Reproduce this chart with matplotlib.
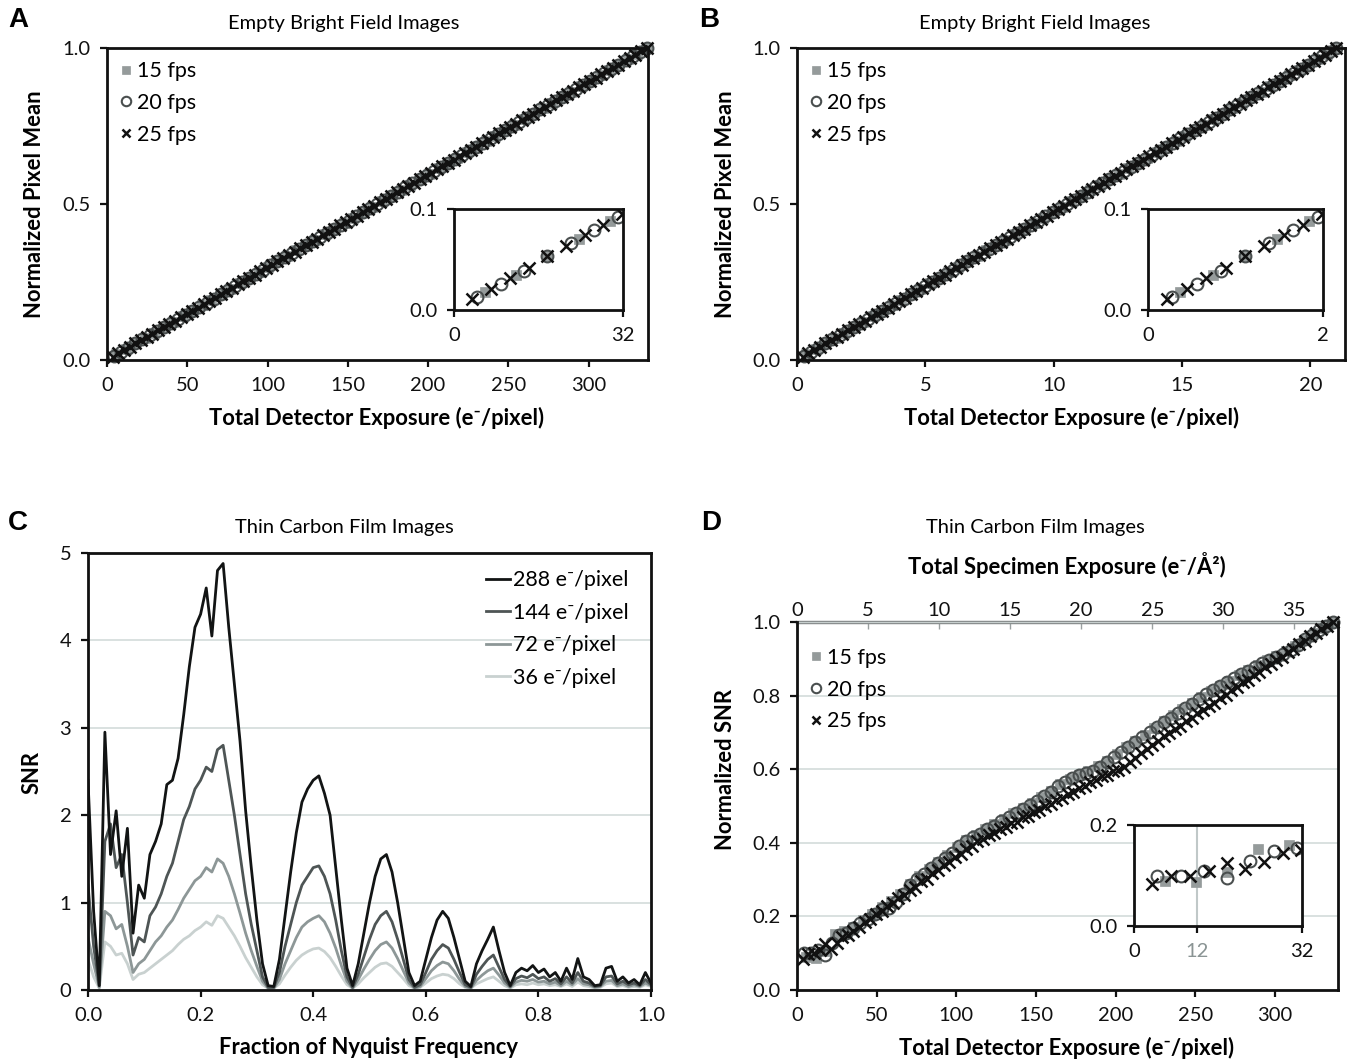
import matplotlib
matplotlib.use("Agg")
import matplotlib.pyplot as plt
import numpy as np

plt.rcParams['font.family'] = ['Lato', 'DejaVu Sans']
plt.rcParams['axes.linewidth'] = 2.0

# ---------------- data ----------------
# Total detector exposure (e-/pixel) of each recorded point, per frame rate
exposure_15fps = [5.9, 11.8, 17.7, 23.6, 29.5, 35.4, 41.3, 47.2, 53.1, 59.0, 64.9, 70.8, 76.7, 82.6, 88.5,
                  94.4, 100.3, 106.2, 112.1, 118.0, 123.9, 129.8, 135.7, 141.6, 147.5, 153.4, 159.3, 165.2,
                  171.1, 177.0, 182.9, 188.8, 194.7, 200.6, 206.5, 212.4, 218.3, 224.2, 230.1, 236.0, 241.9,
                  247.8, 253.7, 259.6, 265.5, 271.4, 277.3, 283.2, 289.1, 295.0, 300.9, 306.8, 312.7, 318.6,
                  324.5, 330.4, 336.3]
exposure_20fps = [4.4, 8.9, 13.3, 17.7, 22.1, 26.6, 31.0, 35.4, 39.8, 44.3, 48.7, 53.1, 57.5, 62.0, 66.4,
                  70.8, 75.2, 79.7, 84.1, 88.5, 92.9, 97.4, 101.8, 106.2, 110.6, 115.1, 119.5, 123.9, 128.3,
                  132.8, 137.2, 141.6, 146.0, 150.5, 154.9, 159.3, 163.7, 168.2, 172.6, 177.0, 181.4, 185.9,
                  190.3, 194.7, 199.1, 203.6, 208.0, 212.4, 216.8, 221.3, 225.7, 230.1, 234.5, 239.0, 243.4,
                  247.8, 252.2, 256.7, 261.1, 265.5, 269.9, 274.4, 278.8, 283.2, 287.6, 292.1, 296.5, 300.9,
                  305.3, 309.8, 314.2, 318.6, 323.0, 327.5, 331.9, 336.3]
exposure_25fps = [3.5, 7.1, 10.6, 14.2, 17.7, 21.2, 24.8, 28.3, 31.9, 35.4, 38.9, 42.5, 46.0, 49.6, 53.1,
                  56.6, 60.2, 63.7, 67.3, 70.8, 74.3, 77.9, 81.4, 85.0, 88.5, 92.0, 95.6, 99.1, 102.7, 106.2,
                  109.7, 113.3, 116.8, 120.4, 123.9, 127.4, 131.0, 134.5, 138.1, 141.6, 145.1, 148.7, 152.2,
                  155.8, 159.3, 162.8, 166.4, 169.9, 173.5, 177.0, 180.5, 184.1, 187.6, 191.2, 194.7, 198.2,
                  201.8, 205.3, 208.9, 212.4, 215.9, 219.5, 223.0, 226.6, 230.1, 233.6, 237.2, 240.7, 244.3,
                  247.8, 251.3, 254.9, 258.4, 262.0, 265.5, 269.0, 272.6, 276.1, 279.7, 283.2, 286.7, 290.3,
                  293.8, 297.4, 300.9, 304.4, 308.0, 311.5, 315.1, 318.6, 322.1, 325.7, 329.2, 332.8, 336.3]

# Empty bright field: normalized pixel mean
mean_15fps = [0.018, 0.035, 0.053, 0.070, 0.088, 0.105, 0.123, 0.140, 0.158, 0.175, 0.193, 0.211, 0.228,
              0.246, 0.263, 0.281, 0.298, 0.316, 0.333, 0.351, 0.368, 0.386, 0.404, 0.421, 0.439, 0.456,
              0.474, 0.491, 0.509, 0.526, 0.544, 0.561, 0.579, 0.596, 0.614, 0.632, 0.649, 0.667, 0.684,
              0.702, 0.719, 0.737, 0.754, 0.772, 0.789, 0.807, 0.825, 0.842, 0.860, 0.877, 0.895, 0.912,
              0.930, 0.947, 0.965, 0.982, 1.000]
mean_20fps = [0.013, 0.026, 0.039, 0.053, 0.066, 0.079, 0.092, 0.105, 0.118, 0.132, 0.145, 0.158, 0.171,
              0.184, 0.197, 0.211, 0.224, 0.237, 0.250, 0.263, 0.276, 0.289, 0.303, 0.316, 0.329, 0.342,
              0.355, 0.368, 0.382, 0.395, 0.408, 0.421, 0.434, 0.447, 0.461, 0.474, 0.487, 0.500, 0.513,
              0.526, 0.539, 0.553, 0.566, 0.579, 0.592, 0.605, 0.618, 0.632, 0.645, 0.658, 0.671, 0.684,
              0.697, 0.711, 0.724, 0.737, 0.750, 0.763, 0.776, 0.789, 0.803, 0.816, 0.829, 0.842, 0.855,
              0.868, 0.882, 0.895, 0.908, 0.921, 0.934, 0.947, 0.961, 0.974, 0.987, 1.000]
mean_25fps = [0.011, 0.021, 0.032, 0.042, 0.053, 0.063, 0.074, 0.084, 0.095, 0.105, 0.116, 0.126, 0.137,
              0.147, 0.158, 0.168, 0.179, 0.189, 0.200, 0.211, 0.221, 0.232, 0.242, 0.253, 0.263, 0.274,
              0.284, 0.295, 0.305, 0.316, 0.326, 0.337, 0.347, 0.358, 0.368, 0.379, 0.389, 0.400, 0.411,
              0.421, 0.432, 0.442, 0.453, 0.463, 0.474, 0.484, 0.495, 0.505, 0.516, 0.526, 0.537, 0.547,
              0.558, 0.568, 0.579, 0.589, 0.600, 0.611, 0.621, 0.632, 0.642, 0.653, 0.663, 0.674, 0.684,
              0.695, 0.705, 0.716, 0.726, 0.737, 0.747, 0.758, 0.768, 0.779, 0.789, 0.800, 0.811, 0.821,
              0.832, 0.842, 0.853, 0.863, 0.874, 0.884, 0.895, 0.905, 0.916, 0.926, 0.937, 0.947, 0.958,
              0.968, 0.979, 0.989, 1.000]

# Thin carbon film: normalized SNR
snr_15fps = [0.089, 0.087, 0.107, 0.152, 0.160, 0.170, 0.189, 0.207, 0.226, 0.241, 0.262, 0.287, 0.309,
             0.328, 0.348, 0.368, 0.388, 0.407, 0.421, 0.437, 0.450, 0.465, 0.480, 0.494, 0.509, 0.524,
             0.541, 0.561, 0.574, 0.585, 0.594, 0.608, 0.623, 0.641, 0.660, 0.676, 0.693, 0.712, 0.730,
             0.747, 0.764, 0.781, 0.797, 0.812, 0.826, 0.841, 0.855, 0.869, 0.884, 0.896, 0.907, 0.920,
             0.936, 0.952, 0.970, 0.985, 1.000]
snr_20fps = [0.100, 0.100, 0.109, 0.096, 0.129, 0.149, 0.155, 0.168, 0.182, 0.193, 0.207, 0.219, 0.222,
             0.238, 0.262, 0.285, 0.301, 0.316, 0.331, 0.345, 0.360, 0.373, 0.391, 0.404, 0.415, 0.424,
             0.438, 0.446, 0.459, 0.469, 0.482, 0.491, 0.504, 0.513, 0.527, 0.539, 0.553, 0.566, 0.575,
             0.583, 0.589, 0.596, 0.607, 0.620, 0.634, 0.648, 0.660, 0.674, 0.687, 0.700, 0.714, 0.727,
             0.740, 0.753, 0.766, 0.778, 0.791, 0.804, 0.815, 0.825, 0.836, 0.847, 0.858, 0.868, 0.879,
             0.888, 0.897, 0.905, 0.914, 0.925, 0.938, 0.953, 0.965, 0.978, 0.989, 1.000]
snr_25fps = [0.083, 0.099, 0.100, 0.109, 0.124, 0.112, 0.127, 0.144, 0.150, 0.160, 0.171, 0.185, 0.192,
             0.206, 0.214, 0.229, 0.236, 0.251, 0.259, 0.273, 0.280, 0.295, 0.302, 0.318, 0.325, 0.339,
             0.348, 0.362, 0.369, 0.384, 0.391, 0.404, 0.410, 0.421, 0.426, 0.437, 0.442, 0.453, 0.457,
             0.469, 0.474, 0.485, 0.489, 0.501, 0.506, 0.517, 0.521, 0.533, 0.538, 0.548, 0.553, 0.565,
             0.570, 0.582, 0.584, 0.594, 0.598, 0.606, 0.619, 0.630, 0.643, 0.655, 0.667, 0.677, 0.689,
             0.698, 0.710, 0.718, 0.731, 0.739, 0.752, 0.760, 0.773, 0.781, 0.794, 0.802, 0.815, 0.823,
             0.836, 0.843, 0.856, 0.864, 0.877, 0.885, 0.898, 0.906, 0.919, 0.927, 0.940, 0.948, 0.961,
             0.969, 0.982, 0.990, 1.000]

# SNR spectra vs fraction of Nyquist
nyquist_fraction = [0.00, 0.01, 0.02, 0.03, 0.04, 0.05, 0.06, 0.07, 0.08, 0.09, 0.10, 0.11, 0.12, 0.13,
                    0.14, 0.15, 0.16, 0.17, 0.18, 0.19, 0.20, 0.21, 0.22, 0.23, 0.24, 0.25, 0.26, 0.27,
                    0.28, 0.29, 0.30, 0.31, 0.32, 0.33, 0.34, 0.35, 0.36, 0.37, 0.38, 0.39, 0.40, 0.41,
                    0.42, 0.43, 0.44, 0.45, 0.46, 0.47, 0.48, 0.49, 0.50, 0.51, 0.52, 0.53, 0.54, 0.55,
                    0.56, 0.57, 0.58, 0.59, 0.60, 0.61, 0.62, 0.63, 0.64, 0.65, 0.66, 0.67, 0.68, 0.69,
                    0.70, 0.71, 0.72, 0.73, 0.74, 0.75, 0.76, 0.77, 0.78, 0.79, 0.80, 0.81, 0.82, 0.83,
                    0.84, 0.85, 0.86, 0.87, 0.88, 0.89, 0.90, 0.91, 0.92, 0.93, 0.94, 0.95, 0.96, 0.97,
                    0.98, 0.99, 1.00]
snr_288 = [2.40, 0.90, 0.05, 2.95, 1.55, 2.05, 1.30, 1.85, 0.65, 1.20, 1.05, 1.55, 1.70, 1.90, 2.35, 2.40,
           2.65, 3.15, 3.70, 4.15, 4.30, 4.60, 4.05, 4.80, 4.88, 4.15, 3.50, 2.85, 2.05, 1.40, 0.80, 0.30,
           0.05, 0.04, 0.35, 0.85, 1.35, 1.80, 2.15, 2.30, 2.40, 2.45, 2.25, 2.00, 1.40, 0.80, 0.25, 0.05,
           0.30, 0.65, 1.00, 1.30, 1.50, 1.55, 1.35, 1.00, 0.60, 0.20, 0.05, 0.10, 0.35, 0.60, 0.80, 0.90,
           0.82, 0.60, 0.35, 0.10, 0.04, 0.30, 0.45, 0.58, 0.72, 0.45, 0.20, 0.05, 0.20, 0.25, 0.22, 0.28,
           0.20, 0.24, 0.15, 0.20, 0.10, 0.25, 0.12, 0.36, 0.15, 0.12, 0.05, 0.06, 0.25, 0.27, 0.10, 0.15,
           0.08, 0.12, 0.06, 0.20, 0.08]
snr_144 = [1.20, 0.50, 0.05, 1.70, 1.90, 1.40, 1.55, 1.00, 0.40, 0.60, 0.55, 0.85, 0.95, 1.10, 1.30, 1.45,
           1.70, 1.95, 2.10, 2.30, 2.40, 2.55, 2.50, 2.75, 2.80, 2.40, 2.00, 1.55, 1.10, 0.75, 0.45, 0.15,
           0.03, 0.03, 0.20, 0.50, 0.75, 1.00, 1.20, 1.30, 1.40, 1.42, 1.30, 1.10, 0.80, 0.45, 0.15, 0.03,
           0.18, 0.38, 0.58, 0.75, 0.85, 0.90, 0.78, 0.58, 0.35, 0.12, 0.03, 0.06, 0.20, 0.35, 0.45, 0.52,
           0.48, 0.35, 0.20, 0.06, 0.03, 0.18, 0.27, 0.35, 0.40, 0.26, 0.12, 0.04, 0.13, 0.16, 0.14, 0.18,
           0.13, 0.15, 0.10, 0.13, 0.07, 0.15, 0.08, 0.20, 0.10, 0.08, 0.04, 0.05, 0.15, 0.16, 0.07, 0.10,
           0.06, 0.08, 0.05, 0.12, 0.06]
snr_72 = [0.60, 0.30, 0.03, 0.90, 0.85, 0.70, 0.75, 0.50, 0.20, 0.30, 0.35, 0.45, 0.55, 0.62, 0.72, 0.80,
          0.92, 1.05, 1.15, 1.25, 1.30, 1.40, 1.35, 1.50, 1.45, 1.30, 1.10, 0.88, 0.65, 0.45, 0.27, 0.10,
          0.02, 0.02, 0.12, 0.30, 0.45, 0.60, 0.72, 0.78, 0.82, 0.85, 0.78, 0.65, 0.48, 0.28, 0.10, 0.02,
          0.12, 0.24, 0.35, 0.45, 0.52, 0.55, 0.48, 0.36, 0.22, 0.08, 0.02, 0.04, 0.13, 0.22, 0.28, 0.32,
          0.30, 0.22, 0.12, 0.04, 0.02, 0.11, 0.17, 0.22, 0.25, 0.17, 0.08, 0.03, 0.09, 0.11, 0.10, 0.12,
          0.09, 0.10, 0.07, 0.09, 0.05, 0.10, 0.06, 0.13, 0.07, 0.06, 0.03, 0.04, 0.10, 0.11, 0.05, 0.07,
          0.04, 0.06, 0.04, 0.08, 0.05]
snr_36 = [0.35, 0.15, 0.02, 0.55, 0.50, 0.40, 0.42, 0.30, 0.12, 0.18, 0.20, 0.25, 0.30, 0.35, 0.40, 0.45,
          0.52, 0.58, 0.62, 0.68, 0.72, 0.78, 0.74, 0.85, 0.82, 0.72, 0.62, 0.50, 0.37, 0.26, 0.15, 0.06,
          0.02, 0.02, 0.07, 0.17, 0.26, 0.34, 0.40, 0.44, 0.47, 0.48, 0.44, 0.37, 0.27, 0.16, 0.06, 0.02,
          0.07, 0.14, 0.20, 0.26, 0.30, 0.31, 0.27, 0.20, 0.13, 0.05, 0.02, 0.03, 0.08, 0.13, 0.16, 0.18,
          0.17, 0.13, 0.07, 0.03, 0.02, 0.07, 0.10, 0.13, 0.15, 0.10, 0.05, 0.02, 0.06, 0.07, 0.06, 0.08,
          0.06, 0.07, 0.05, 0.06, 0.04, 0.07, 0.04, 0.09, 0.05, 0.04, 0.02, 0.03, 0.07, 0.08, 0.04, 0.05,
          0.03, 0.04, 0.03, 0.06, 0.04]

fps_labels = ['15 fps', '20 fps', '25 fps']
dose_labels = ['288 e\u207b/pixel', '144 e\u207b/pixel', '72 e\u207b/pixel', '36 e\u207b/pixel']
superres_factor = 16          # panel B pixel units relative to panel A
detector_per_specimen = 8.92  # e-/pixel per e-/A^2 (panel D top axis)
inset_d_marker = 12

# ---------------- styling ----------------
W, H = 1358, 1063
fig = plt.figure(figsize=(W / 100, H / 100), dpi=100)

def box(l, t, r, b):
    return [l / W, 1 - b / H, (r - l) / W, (b - t) / H]

def ftext(x, y, s, **kw):
    fig.text(x / W, 1 - y / H, s, ha='center', va='center', **kw)

TICK_FS = 14.5
LAB_FS = 15.8
LEG_FS = 15.5
TITLE_FS = 14.5
GRID = '#d3dbda'
C_SQ = '#959b9b'
C_CI = '#4a4f4f'
C_X = '#111111'

def style_axes(ax, fs=TICK_FS):
    for s in ax.spines.values():
        s.set_linewidth(2.0)
        s.set_color('#111111')
    ax.tick_params(direction='out', length=5, width=1.6, labelsize=fs, pad=7, colors='#111111')

series_style = [
    dict(marker='s', ms=7.5, mfc=C_SQ, mec=C_SQ, mew=0.5),
    dict(marker='o', ms=8.5, mfc='none', mec=C_CI, mew=1.5),
    dict(marker='x', ms=8.0, mfc='none', mec=C_X, mew=1.8),
]

def draw_series(ax, xs, ys, clip=True, labels=None):
    hs = []
    for i, (x, y) in enumerate(zip(xs, ys)):
        h, = ax.plot(x, y, linestyle='none', clip_on=clip,
                     label=None if labels is None else labels[i], **series_style[i])
        hs.append(h)
    return hs

def fps_legend(ax, anchor):
    ax.legend(loc='upper left', bbox_to_anchor=anchor, frameon=False, fontsize=LEG_FS,
              handlelength=0.5, handletextpad=0.25, labelspacing=0.55, borderpad=0,
              borderaxespad=0, markerscale=0.8)

# ---------------- panel A ----------------
expA = [np.array(exposure_15fps), np.array(exposure_20fps), np.array(exposure_25fps)]
meanA = [mean_15fps, mean_20fps, mean_25fps]

axA = fig.add_axes(box(107, 48, 648, 360))
style_axes(axA)
draw_series(axA, expA, meanA, clip=False, labels=fps_labels)
axA.set_xlim(0, 337)
axA.set_ylim(0, 1)
axA.set_xticks([0, 50, 100, 150, 200, 250, 300])
axA.set_yticks([0, 0.5, 1.0])
axA.set_yticklabels(['0.0', '0.5', '1.0'])
fps_legend(axA, (0.025, 0.958))

axAi = fig.add_axes(box(454, 209, 623, 310))
style_axes(axAi)
draw_series(axAi, expA, meanA, clip=True)
axAi.set_xlim(0, 32)
axAi.set_ylim(0, 0.1)
axAi.set_xticks([0, 32])
axAi.set_yticks([0, 0.1])
axAi.set_yticklabels(['0.0', '0.1'])

# ---------------- panel B ----------------
expB = [e / superres_factor for e in expA]
axB = fig.add_axes(box(797, 48, 1345, 360))
style_axes(axB)
draw_series(axB, expB, meanA, clip=False, labels=fps_labels)
axB.set_xlim(0, 21.35)
axB.set_ylim(0, 1)
axB.set_xticks([0, 5, 10, 15, 20])
axB.set_yticks([0, 0.5, 1.0])
axB.set_yticklabels(['0.0', '0.5', '1.0'])
fps_legend(axB, (0.025, 0.958))

axBi = fig.add_axes(box(1148, 209, 1323, 310))
style_axes(axBi)
draw_series(axBi, expB, meanA, clip=True)
axBi.set_xlim(0, 2)
axBi.set_ylim(0, 0.1)
axBi.set_xticks([0, 2])
axBi.set_yticks([0, 0.1])
axBi.set_yticklabels(['0.0', '0.1'])

# ---------------- panel C ----------------
axC = fig.add_axes(box(88, 553, 651, 990))
style_axes(axC)
axC.set_axisbelow(True)
axC.yaxis.grid(True, color=GRID, lw=1.2)
line_colors = ['#121414', '#4e5555', '#8d9797', '#c9d1d0']
curves = [snr_288, snr_144, snr_72, snr_36]
handles = [None] * 4
for i in [3, 2, 1, 0]:
    h, = axC.plot(nyquist_fraction, curves[i], color=line_colors[i], lw=2.0, label=dose_labels[i])
    handles[i] = h
axC.set_xlim(0, 1)
axC.set_ylim(0, 5)
axC.set_xticks([0, 0.2, 0.4, 0.6, 0.8, 1.0])
axC.set_xticklabels(['0.0', '0.2', '0.4', '0.6', '0.8', '1.0'])
axC.set_yticks([0, 1, 2, 3, 4, 5])
axC.legend(handles=handles, loc='upper right', bbox_to_anchor=(0.96, 0.96), frameon=False,
           fontsize=LEG_FS, handlelength=1.1, handletextpad=0.15, labelspacing=0.58,
           borderpad=0, borderaxespad=0)

# ---------------- panel D ----------------
axD = fig.add_axes(box(797, 622, 1338, 990))
style_axes(axD)
axD.set_axisbelow(True)
axD.yaxis.grid(True, color=GRID, lw=1.2)
snrD = [snr_15fps, snr_20fps, snr_25fps]
draw_series(axD, expA, snrD, clip=False, labels=fps_labels)
axD.set_xlim(0, 339.6)
axD.set_ylim(0, 1)
axD.set_xticks([0, 50, 100, 150, 200, 250, 300])
axD.set_yticks([0, 0.2, 0.4, 0.6, 0.8, 1.0])
axD.set_yticklabels(['0.0', '0.2', '0.4', '0.6', '0.8', '1.0'])
axD.spines['top'].set_visible(False)
fps_legend(axD, (0.025, 0.93))

secD = axD.secondary_xaxis('top', functions=(lambda v: v / detector_per_specimen,
                                             lambda v: v * detector_per_specimen))
secD.set_xticks([0, 5, 10, 15, 20, 25, 30, 35])
secD.spines['top'].set_color('#8a8f8f')
secD.spines['top'].set_linewidth(2.5)
secD.tick_params(direction='in', length=5, width=1.0, colors='#9aa0a0', labelcolor='#111111',
                 labelsize=TICK_FS, pad=2)

axDi = fig.add_axes(box(1134, 825, 1302, 926))
style_axes(axDi)
axDi.axvline(inset_d_marker, color='#c0c8c8', lw=1.5, zorder=0)
draw_series(axDi, expA, snrD, clip=True)
axDi.set_xlim(0, 32)
axDi.set_ylim(0, 0.2)
axDi.set_xticks([0, inset_d_marker, 32])
axDi.set_yticks([0, 0.2])
axDi.set_yticklabels(['0.0', '0.2'])
axDi.get_xticklabels()[1].set_color('#8a9494')

# ---------------- text ----------------
letter_kw = dict(fontsize=20, fontweight='bold', family=['Liberation Sans Narrow', 'Liberation Sans', 'DejaVu Sans'])
ftext(18, 20, 'A', **letter_kw)
ftext(709, 20, 'B', **letter_kw)
ftext(18, 523, 'C', **letter_kw)
ftext(711, 523, 'D', **letter_kw)

ftext(344, 23, 'Empty Bright Field Images', fontsize=TITLE_FS)
ftext(1035, 23, 'Empty Bright Field Images', fontsize=TITLE_FS)
ftext(344, 527, 'Thin Carbon Film Images', fontsize=TITLE_FS)
ftext(1035, 527, 'Thin Carbon Film Images', fontsize=TITLE_FS)

bold = dict(fontsize=LAB_FS, fontweight='bold')
ftext(377, 418, 'Total Detector Exposure (e\u207b/pixel)', **bold)
ftext(1072, 418, 'Total Detector Exposure (e\u207b/pixel)', **bold)
ftext(35, 204, 'Normalized Pixel Mean', rotation=90, **bold)
ftext(725, 204, 'Normalized Pixel Mean', rotation=90, **bold)
ftext(32, 772, 'SNR', rotation=90, **bold)
ftext(369, 1048, 'Fraction of Nyquist Frequency', **bold)
ftext(725, 770, 'Normalized SNR', rotation=90, **bold)
ftext(1067, 1048, 'Total Detector Exposure (e\u207b/pixel)', **bold)
ftext(1067, 565, 'Total Specimen Exposure (e\u207b/\u00c5\u00b2)', **bold)

fig.savefig('out.png', dpi=100)
